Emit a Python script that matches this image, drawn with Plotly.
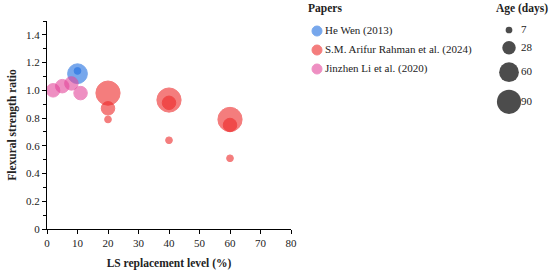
import plotly.graph_objects as go

# LS replacement level (%), flexural strength ratio and curing age (days)
wen_x = [10, 10]
wen_y = [1.12, 1.14]
wen_age = [60, 7]

rahman_x = [20, 20, 20, 40, 40, 40, 60, 60, 60]
rahman_y = [0.98, 0.87, 0.79, 0.93, 0.91, 0.64, 0.79, 0.75, 0.51]
rahman_age = [90, 28, 7, 90, 28, 7, 90, 28, 7]

li_x = [2, 5, 8, 11]
li_y = [1.00, 1.03, 1.05, 0.98]
li_age = [28, 28, 28, 28]

legend_ages = [7, 28, 60, 90]
ytick_vals = [0, 0.2, 0.4, 0.6, 0.8, 1.0, 1.2, 1.4]
ytick_text = ["0", "0.2", "0.4", "0.6", "0.8", "1.0", "1.2", "1.4"]

FONT = "Liberation Serif"
K = 2.55                  # px of diameter per sqrt(day)
SIZEREF = 2 / K ** 2      # plotly area mode: diameter = sqrt(2 * v / sizeref)

papers = [
    ("He Wen (2013)", wen_x, wen_y, wen_age, "rgb(30,110,225)"),
    ("S.M. Arifur Rahman et al. (2024)", rahman_x, rahman_y, rahman_age, "rgb(238,40,40)"),
    ("Jinzhen Li et al. (2020)", li_x, li_y, li_age, "rgb(228,70,155)"),
]

fig = go.Figure()
for name, x, y, age, color in papers:
    fig.add_trace(go.Scatter(
        x=x, y=y, mode="markers", name=name, showlegend=False,
        marker=dict(size=age, sizemode="area", sizeref=SIZEREF, color=color,
                    opacity=0.6, line=dict(color=color, width=1))))

# legends are drawn on an overlay axis whose units are page pixels
paper_rows = [31 + 19 * i for i in range(len(papers))]
fig.add_trace(go.Scatter(
    x=[317] * len(papers), y=paper_rows, mode="markers", showlegend=False,
    marker=dict(size=10, color=[p[4] for p in papers], opacity=0.6,
                line=dict(color=[p[4] for p in papers], width=1)),
    xaxis="x2", yaxis="y2", hoverinfo="skip"))
fig.add_trace(go.Scatter(
    x=[325] * len(papers), y=paper_rows, mode="text", showlegend=False,
    text=[p[0] for p in papers], textposition="middle right",
    textfont=dict(family=FONT, size=11, color="#222"),
    xaxis="x2", yaxis="y2", hoverinfo="skip"))

diam = [K * a ** 0.5 for a in legend_ages]
age_rows = [30]
for i in range(1, len(diam)):
    age_rows.append(age_rows[-1] + diam[i - 1] / 2 + diam[i] / 2 + 7.7)

fig.add_trace(go.Scatter(
    x=[509] * len(legend_ages), y=age_rows, mode="markers", showlegend=False,
    marker=dict(size=legend_ages, sizemode="area", sizeref=SIZEREF,
                color="black", line=dict(width=0)),
    xaxis="x2", yaxis="y2", hoverinfo="skip"))
fig.add_trace(go.Scatter(
    x=[521] * len(legend_ages), y=age_rows, mode="text", showlegend=False,
    text=[str(a) for a in legend_ages], textposition="middle right",
    textfont=dict(family=FONT, size=11, color="#222"),
    xaxis="x2", yaxis="y2", hoverinfo="skip"))

for label, lx in [("Papers", 306), ("Age (days)", 494)]:
    fig.add_annotation(text=f"<b>{label}</b>", xref="x2", yref="y2",
                       x=lx, y=8, xanchor="left", yanchor="middle",
                       showarrow=False, font=dict(family=FONT, size=11.5, color="#222"))

fig.update_layout(
    width=550, height=280,
    margin=dict(l=47, r=0, t=0, b=51),
    plot_bgcolor="white", paper_bgcolor="white",
    font=dict(family=FONT, size=11, color="#222"),
    showlegend=False,
    xaxis=dict(domain=[0, 244 / 503], range=[0, 80], dtick=10, automargin=False,
               showline=True, linecolor="black", linewidth=1.2,
               ticks="outside", ticklen=4, tickcolor="black",
               tickfont=dict(size=11), showgrid=False, zeroline=False,
               title=dict(text="<b>LS replacement level (%)</b>",
                          font=dict(size=11.5), standoff=10)),
    yaxis=dict(domain=[0, 208 / 229], range=[0, 1.5], automargin=False,
               tickvals=ytick_vals, ticktext=ytick_text,
               showline=True, linecolor="black", linewidth=1.2,
               ticks="outside", ticklen=4, tickcolor="black",
               minor=dict(dtick=0.1, ticks="outside", ticklen=3, tickcolor="black"),
               tickfont=dict(size=11), showgrid=False, zeroline=False,
               title=dict(text="<b>Flexural strength ratio</b>",
                          font=dict(size=11.5), standoff=6)),
    xaxis2=dict(domain=[248 / 503, 1], range=[295, 550], visible=False),
    yaxis2=dict(domain=[0, 1], range=[229, 0], visible=False),
)

# page body has an 8px default margin; drop it so the figure sits at the corner
fig.write_html("out.html", config={"displayModeBar": False},
               post_script="document.body.style.margin='0';")
